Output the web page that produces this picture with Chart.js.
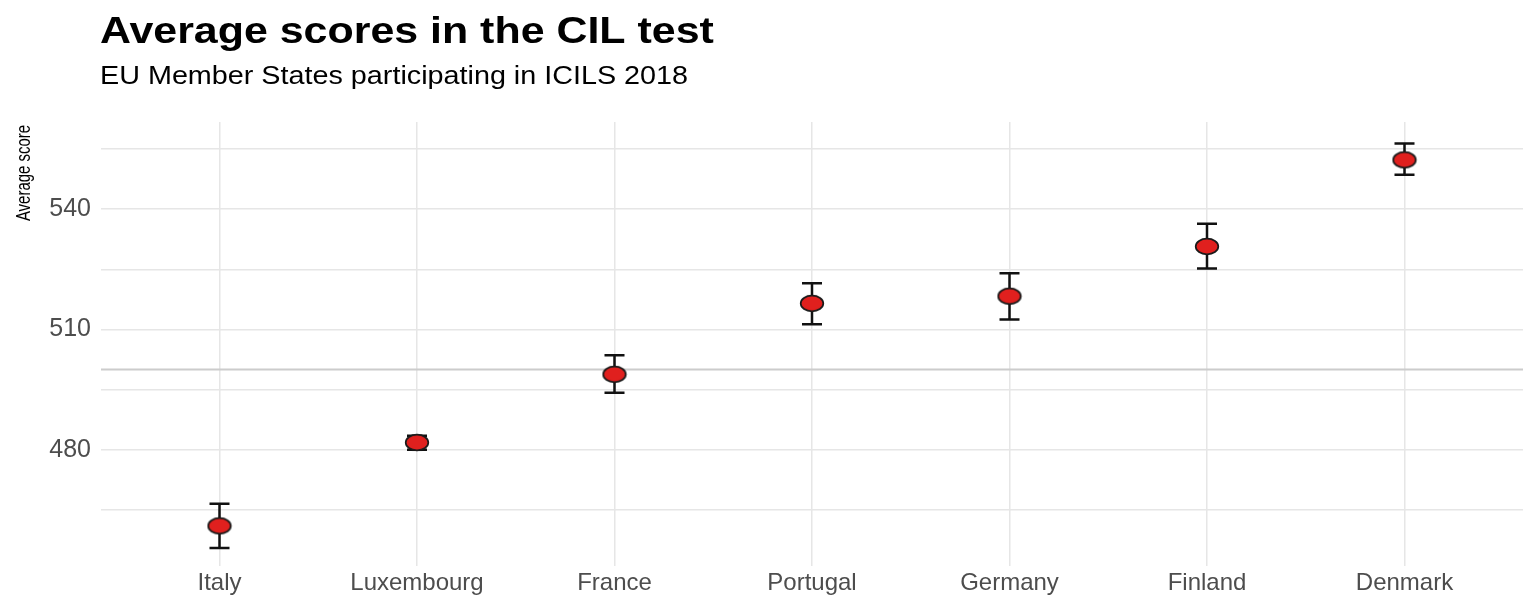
<!DOCTYPE html>
<html>
<head>
<meta charset="utf-8">
<title>Average scores in the CIL test</title>
<script src="https://cdn.jsdelivr.net/npm/chart.js@4.4.1/dist/chart.umd.min.js"></script>
<style>
  html, body { margin: 0; padding: 0; background: #ffffff; }
  #wrap { width: 1534px; height: 597px; }
</style>
</head>
<body>
<div id="wrap"><canvas id="scoreChart"></canvas></div>
<script>
// data
const countries = ['Italy', 'Luxembourg', 'France', 'Portugal', 'Germany', 'Finland', 'Denmark'];
const scores = [461, 481.8, 498.8, 516.5, 518.3, 530.7, 552.3];
const errLow = [455.5, 480, 494.2, 511.3, 512.5, 525.2, 548.6];
const errHigh = [466.5, 483.5, 503.6, 521.5, 524, 536.4, 556.4];
const yTicks = [465, 480, 495, 510, 525, 540, 555];
const yLabelTicks = [480, 510, 540];
const icilsAverage = 500;

// ellipse marker (the picture is a bit stretched sideways)
function makeMarker() {
  const c = document.createElement('canvas');
  c.width = 26;
  c.height = 19;
  const g = c.getContext('2d');
  g.beginPath();
  g.ellipse(13, 9.5, 11.3, 7.8, 0, 0, Math.PI * 2);
  g.fillStyle = '#e0201e';
  g.fill();
  g.lineWidth = 1.7;
  g.strokeStyle = '#1a1a1a';
  g.stroke();
  return c;
}

// reference line + error bars, under the points
const errorBars = {
  id: 'errorBars',
  beforeDatasetsDraw(chart) {
    const { ctx, chartArea, scales: { x, y } } = chart;
    ctx.save();
    const yRef = y.getPixelForValue(icilsAverage);
    ctx.strokeStyle = '#cccccc';
    ctx.lineWidth = 2;
    ctx.beginPath();
    ctx.moveTo(chartArea.left, yRef);
    ctx.lineTo(chartArea.right, yRef);
    ctx.stroke();

    ctx.strokeStyle = '#111111';
    ctx.lineWidth = 2.5;
    countries.forEach((c, i) => {
      const px = x.getPixelForValue(i);
      const top = y.getPixelForValue(errHigh[i]);
      const bot = y.getPixelForValue(errLow[i]);
      ctx.beginPath();
      ctx.moveTo(px, top);
      ctx.lineTo(px, bot);
      ctx.moveTo(px - 10, top);
      ctx.lineTo(px + 10, top);
      ctx.moveTo(px - 10, bot);
      ctx.lineTo(px + 10, bot);
      ctx.stroke();
    });
    ctx.restore();
  }
};

// title, subtitle and y axis title
const headings = {
  id: 'headings',
  afterDraw(chart) {
    const { ctx, chartArea } = chart;
    ctx.save();
    ctx.fillStyle = '#000000';
    ctx.textBaseline = 'alphabetic';
    ctx.textAlign = 'left';

    ctx.save();
    ctx.translate(chartArea.left - 1, 43);
    ctx.scale(1.16, 1);
    ctx.font = 'bold 37px "Liberation Sans", Arial, sans-serif';
    ctx.fillText('Average scores in the CIL test', 0, 0);
    ctx.restore();

    ctx.save();
    ctx.translate(chartArea.left - 1, 84);
    ctx.scale(1.15, 1);
    ctx.font = '25px "Liberation Sans", Arial, sans-serif';
    ctx.fillText('EU Member States participating in ICILS 2018', 0, 0);
    ctx.restore();

    ctx.save();
    ctx.translate(30, 173);
    ctx.rotate(-Math.PI / 2);
    ctx.scale(0.88, 1.2);
    ctx.textAlign = 'center';
    ctx.font = '17px "Liberation Sans", Arial, sans-serif';
    ctx.fillText('Average score', 0, 0);
    ctx.restore();

    ctx.restore();
  }
};

const ctxScore = document.getElementById('scoreChart').getContext('2d');
new Chart(ctxScore, {
  type: 'scatter',
  data: {
    datasets: [{
      label: 'Average score',
      data: scores.map((v, i) => ({ x: i, y: v })),
      pointStyle: makeMarker(),
      pointRadius: 10,
      pointHoverRadius: 10
    }]
  },
  options: {
    responsive: true,
    maintainAspectRatio: false,
    animation: false,
    events: [],
    layout: {
      padding: { top: 122, right: 7, bottom: 0, left: 0 }
    },
    plugins: {
      legend: { display: false },
      tooltip: { enabled: false }
    },
    scales: {
      x: {
        type: 'linear',
        min: -0.6,
        max: 6.6,
        afterBuildTicks: (scale) => {
          scale.ticks = countries.map((c, i) => ({ value: i }));
        },
        afterFit: (scale) => { scale.height = 31; },
        ticks: {
          callback: (v) => countries[v],
          color: '#4d4d4d',
          font: { family: '"Liberation Sans", Arial, sans-serif', size: 24 },
          padding: 3,
          maxRotation: 0,
          autoSkip: false
        },
        grid: { color: '#e6e6e6', lineWidth: 1.5, drawTicks: false },
        border: { display: false }
      },
      y: {
        min: 451,
        max: 561.75,
        afterBuildTicks: (scale) => {
          scale.ticks = yTicks.map(v => ({ value: v }));
        },
        afterFit: (scale) => { scale.width = 101; },
        ticks: {
          callback: (v) => yLabelTicks.includes(v) ? String(v) : '',
          color: '#4d4d4d',
          font: { family: '"Liberation Sans", Arial, sans-serif', size: 25 },
          padding: 10
        },
        grid: { color: '#e6e6e6', lineWidth: 1.5, drawTicks: false },
        border: { display: false }
      }
    }
  },
  plugins: [errorBars, headings]
});
</script>
</body>
</html>
